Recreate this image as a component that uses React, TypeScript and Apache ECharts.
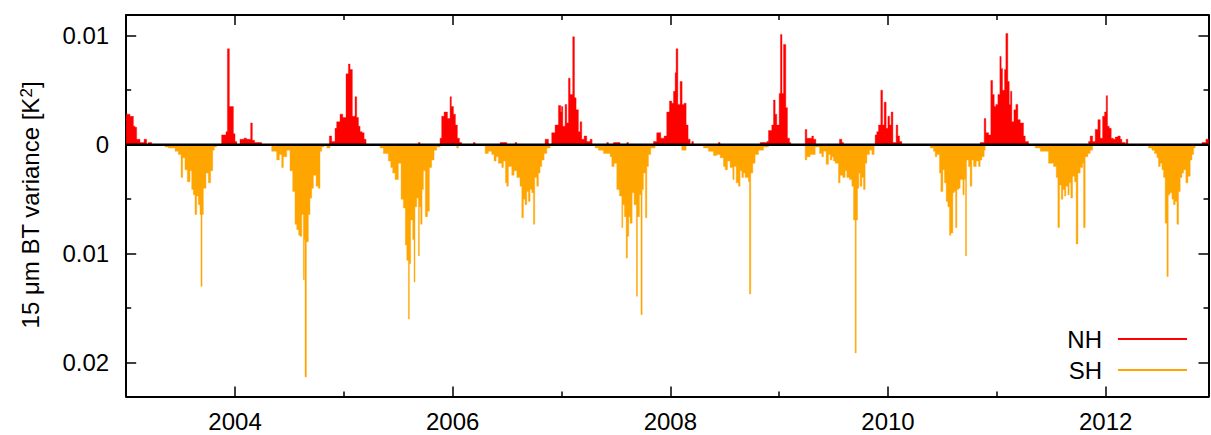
import React, { useEffect, useRef } from 'react';
import * as echarts from 'echarts';

// ---- axis ticks / labels ----
const X_MIN = 2003.0;
const X_MAX = 2012.945;
const Y_MIN = -0.0231;
const Y_MAX = 0.0119;
const xMajorTicks = [2004, 2006, 2008, 2010, 2012];
const xMinorTicks = [2005, 2007, 2009, 2011];
const yMajorTicks = [-0.02, -0.01, 0, 0.01];
const yMinorTicks = [-0.015, -0.005, 0.005];
const seriesNames = ['NH', 'SH'];
const yTitle = '15 μm BT variance [K{sup|2}]';

// ---- NH variance: [decimal year, value], each value holds until the next entry ----
const nh2003 = [[2003.000,0.0028],[2003.035,0.0026],[2003.066,0.0017],[2003.081,0.0016],[2003.096,0.0005],[2003.127,0.0002],[2003.164,0.0005],[2003.188,0],[2003.203,0.0002],[2003.234,0]];
const nh2004 = [[2003.877,0.0009],[2003.917,0.0012],[2003.930,0.0088],[2003.948,0.0035],[2003.985,0.001],[2004.000,0.0003],[2004.016,0],[2004.046,0.0005],[2004.082,0.0006],[2004.107,0.0005],[2004.144,0.002],[2004.159,0.0004],[2004.180,0.0002],[2004.245,0]];
const nh2005 = [[2004.867,0.0008],[2004.888,0.0003],[2004.919,0.0015],[2004.934,0.0021],[2004.965,0.0028],[2004.990,0.0025],[2005.020,0.0065],[2005.042,0.0074],[2005.057,0.0069],[2005.078,0.0026],[2005.103,0.0044],[2005.118,0.0025],[2005.134,0.0017],[2005.149,0.0012],[2005.167,0.0011],[2005.186,0.0005],[2005.204,0],[2005.685,0.0002],[2005.700,0]];
const nh2006 = [[2005.884,0.0006],[2005.899,0.0026],[2005.921,0.003],[2005.952,0.0024],[2005.976,0.0044],[2005.988,0.0035],[2006.007,0.0028],[2006.025,0.0018],[2006.043,0.0006],[2006.062,0.0002],[2006.083,0],[2006.190,0.0002],[2006.206,0],[2006.436,0.0002],[2006.497,0],[2006.573,0.0002],[2006.589,0],[2006.849,0.0005],[2006.880,0]];
const nh2007 = [[2006.910,0.0011],[2006.941,0.0018],[2006.972,0.0036],[2006.993,0.003],[2007.000,0.0035],[2007.012,0.0017],[2007.033,0.0037],[2007.048,0.002],[2007.064,0.0061],[2007.079,0.0046],[2007.103,0.0099],[2007.119,0.0043],[2007.134,0.0032],[2007.155,0.0012],[2007.171,0.0021],[2007.186,0.0005],[2007.208,0.0008],[2007.232,0.0003],[2007.263,0.0005],[2007.281,0],[2007.416,0.0002],[2007.431,0],[2007.477,0.0002],[2007.538,0],[2007.600,0.0002],[2007.615,0]];
const nh2008 = [[2007.845,0.0003],[2007.875,0.0011],[2007.912,0.0006],[2007.943,0.0008],[2007.967,0.003],[2007.992,0.004],[2008.013,0.0038],[2008.029,0.0049],[2008.044,0.0066],[2008.053,0.0088],[2008.069,0.0037],[2008.090,0.0058],[2008.108,0.0037],[2008.127,0.0038],[2008.145,0.0018],[2008.163,0.0005],[2008.182,0],[2008.197,0.0003],[2008.212,0],[2008.442,0.0002],[2008.457,0]];
const nh2009 = [[2008.825,0.0002],[2008.887,0.0003],[2008.902,0.0013],[2008.932,0.0018],[2008.948,0.0041],[2008.963,0.0028],[2008.978,0.0018],[2009.000,0.0047],[2009.012,0.0101],[2009.026,0.0047],[2009.040,0.0092],[2009.061,0.0034],[2009.076,0.0006],[2009.095,0.0002],[2009.107,0],[2009.239,0.0014],[2009.254,0.0006],[2009.300,0.0008],[2009.315,0.0005],[2009.337,0],[2009.554,0.0005],[2009.576,0.0002],[2009.591,0]];
const nh2010 = [[2009.882,0.0009],[2009.897,0.0012],[2009.913,0.0018],[2009.934,0.005],[2009.950,0.0018],[2009.965,0.0039],[2009.983,0.0015],[2009.999,0.0026],[2010.014,0.0018],[2010.029,0.003],[2010.045,0.0002],[2010.075,0.0018],[2010.090,0.0008],[2010.106,0.0003],[2010.127,0]];
const nh2011 = [[2010.847,0.0002],[2010.884,0.0024],[2010.899,0.0011],[2010.924,0.0009],[2010.945,0.0059],[2010.961,0.0046],[2010.976,0.0035],[2010.991,0.0037],[2011.010,0.0046],[2011.028,0.0081],[2011.040,0.007],[2011.052,0.005],[2011.071,0.0069],[2011.083,0.0102],[2011.101,0.0058],[2011.114,0.0037],[2011.126,0.0049],[2011.138,0.0021],[2011.157,0.0032],[2011.175,0.0037],[2011.193,0.0023],[2011.215,0.002],[2011.245,0.0008],[2011.261,0.0003],[2011.291,0]];
const nh2012 = [[2011.843,0.0003],[2011.858,0.0008],[2011.880,0.0003],[2011.904,0.0014],[2011.929,0.0023],[2011.950,0.0006],[2011.972,0.0026],[2011.990,0.003],[2012.005,0.0045],[2012.017,0.0017],[2012.033,0.0015],[2012.051,0.0006],[2012.070,0.0005],[2012.088,0.0007],[2012.112,0.0008],[2012.134,0.0005],[2012.149,0.0002],[2012.180,0],[2012.189,0.0005],[2012.204,0]];
const nh2013 = [[2012.885,0.0002],[2012.921,0.0005],[2012.945,0]];

// ---- SH variance (drawn downward) ----
const sh2003 = [[2003.357,0.0002],[2003.387,0.0003],[2003.449,0.0006],[2003.479,0.0009],[2003.504,0.003],[2003.519,0.0012],[2003.540,0.0023],[2003.562,0.0034],[2003.586,0.0024],[2003.602,0.0041],[2003.617,0.0046],[2003.632,0.0064],[2003.648,0.0047],[2003.663,0.0055],[2003.678,0.0064],[2003.687,0.013],[2003.697,0.0064],[2003.709,0.004],[2003.733,0.0026],[2003.755,0.0035],[2003.776,0.0024],[2003.795,0.0005],[2003.810,0.0002],[2003.831,0]];
const sh2004 = [[2004.337,0.0006],[2004.383,0.0014],[2004.407,0.0009],[2004.429,0.0021],[2004.444,0.0011],[2004.475,0.0005],[2004.505,0.0024],[2004.530,0.0043],[2004.551,0.0073],[2004.567,0.0078],[2004.585,0.0083],[2004.597,0.0084],[2004.613,0.0064],[2004.628,0.0124],[2004.637,0.0087],[2004.643,0.0213],[2004.656,0.0089],[2004.674,0.0064],[2004.689,0.0049],[2004.705,0.004],[2004.720,0.0028],[2004.745,0.0038],[2004.766,0.004],[2004.781,0.0006],[2004.797,0.0002],[2004.818,0],[2004.843,0.0003],[2004.873,0]];
const sh2005 = [[2005.333,0.0003],[2005.363,0.0008],[2005.409,0.0015],[2005.431,0.0021],[2005.449,0.0026],[2005.471,0.0032],[2005.501,0.0017],[2005.526,0.005],[2005.547,0.0058],[2005.565,0.0092],[2005.578,0.0106],[2005.593,0.016],[2005.602,0.0109],[2005.614,0.0069],[2005.633,0.0087],[2005.645,0.0126],[2005.654,0.0057],[2005.670,0.0049],[2005.685,0.0102],[2005.694,0.0057],[2005.706,0.0073],[2005.719,0.0041],[2005.731,0.0024],[2005.749,0.0066],[2005.768,0.0061],[2005.786,0.0021],[2005.807,0.0014],[2005.829,0.0005],[2005.853,0.0002],[2005.884,0],[2006.037,0.0003],[2006.053,0]];
const sh2006 = [[2006.298,0.0008],[2006.328,0.0006],[2006.359,0.0009],[2006.380,0.0015],[2006.399,0.0011],[2006.420,0.0017],[2006.451,0.0021],[2006.466,0.0015],[2006.485,0.0035],[2006.497,0.0038],[2006.512,0.002],[2006.543,0.0028],[2006.564,0.0024],[2006.589,0.003],[2006.619,0.0038],[2006.635,0.0067],[2006.650,0.005],[2006.665,0.0055],[2006.681,0.0043],[2006.696,0.0052],[2006.711,0.0041],[2006.727,0.0044],[2006.742,0.0073],[2006.754,0.003],[2006.773,0.0038],[2006.788,0.0026],[2006.803,0.002],[2006.819,0.0014],[2006.840,0.0008],[2006.865,0.0003],[2006.895,0]];
const sh2007 = [[2007.309,0.0003],[2007.339,0.0005],[2007.385,0.0008],[2007.447,0.0011],[2007.462,0.002],[2007.483,0.0017],[2007.508,0.0041],[2007.532,0.0047],[2007.554,0.0076],[2007.563,0.0055],[2007.578,0.0066],[2007.594,0.0104],[2007.606,0.0084],[2007.618,0.0066],[2007.630,0.0072],[2007.649,0.0044],[2007.667,0.0055],[2007.688,0.0139],[2007.698,0.0066],[2007.716,0.0046],[2007.730,0.0156],[2007.741,0.0041],[2007.753,0.0026],[2007.771,0.0067],[2007.784,0.002],[2007.799,0.0009],[2007.820,0.0003],[2007.860,0],[2008.105,0.0005],[2008.145,0]];
const sh2008 = [[2008.304,0.0003],[2008.350,0.0006],[2008.396,0.001],[2008.427,0.0009],[2008.458,0.0012],[2008.488,0.002],[2008.504,0.0023],[2008.525,0.0015],[2008.549,0.0021],[2008.574,0.0032],[2008.586,0.002],[2008.605,0.0035],[2008.626,0.0038],[2008.641,0.0024],[2008.657,0.003],[2008.672,0.0026],[2008.687,0.003],[2008.718,0.0034],[2008.727,0.0137],[2008.739,0.0026],[2008.758,0.0017],[2008.779,0.0009],[2008.810,0.0005],[2008.856,0.0002],[2008.902,0]];
const sh2009 = [[2009.239,0.0014],[2009.254,0.0011],[2009.285,0.0009],[2009.331,0.0002],[2009.371,0.0008],[2009.392,0.0011],[2009.407,0.0006],[2009.432,0.0018],[2009.453,0.0009],[2009.469,0.0014],[2009.484,0.0011],[2009.499,0.0015],[2009.515,0.0017],[2009.545,0.0035],[2009.560,0.0028],[2009.585,0.003],[2009.606,0.0024],[2009.622,0.003],[2009.646,0.0032],[2009.668,0.0038],[2009.683,0.0069],[2009.698,0.0191],[2009.708,0.0069],[2009.720,0.004],[2009.732,0.0026],[2009.744,0.0038],[2009.760,0.003],[2009.775,0.0041],[2009.790,0.0017],[2009.806,0.0009],[2009.830,0.0005],[2009.852,0.0009],[2009.873,0]];
const sh2010 = [[2010.388,0.0003],[2010.418,0.0006],[2010.434,0.0011],[2010.449,0.0009],[2010.473,0.0026],[2010.486,0.0043],[2010.504,0.0023],[2010.519,0.0035],[2010.535,0.0052],[2010.550,0.0057],[2010.565,0.0083],[2010.578,0.0081],[2010.596,0.0044],[2010.608,0.0043],[2010.621,0.0076],[2010.633,0.0041],[2010.648,0.004],[2010.663,0.0032],[2010.688,0.0046],[2010.700,0.0032],[2010.712,0.0102],[2010.722,0.0014],[2010.740,0.002],[2010.755,0.0038],[2010.771,0.0014],[2010.786,0.002],[2010.811,0.0015],[2010.832,0.002],[2010.847,0.0014],[2010.863,0.0011],[2010.884,0.0005],[2010.893,0]];
const sh2011 = [[2011.353,0.0003],[2011.399,0.0006],[2011.475,0.0017],[2011.521,0.002],[2011.546,0.003],[2011.561,0.0076],[2011.576,0.0037],[2011.592,0.005],[2011.607,0.0041],[2011.622,0.0047],[2011.634,0.0038],[2011.653,0.0046],[2011.665,0.0035],[2011.680,0.0049],[2011.696,0.0029],[2011.714,0.0034],[2011.729,0.0091],[2011.745,0.0026],[2011.766,0.0021],[2011.788,0.0017],[2011.797,0.0076],[2011.812,0.0011],[2011.837,0.0008],[2011.858,0.0005],[2011.880,0]];
const sh2012 = [[2012.394,0.0003],[2012.425,0.0005],[2012.449,0.0008],[2012.471,0.0012],[2012.486,0.002],[2012.502,0.0017],[2012.517,0.0023],[2012.532,0.003],[2012.547,0.0072],[2012.563,0.0121],[2012.575,0.0046],[2012.590,0.0044],[2012.609,0.005],[2012.624,0.0055],[2012.639,0.0052],[2012.655,0.0073],[2012.670,0.0043],[2012.685,0.003],[2012.701,0.0026],[2012.716,0.0023],[2012.737,0.0035],[2012.756,0.0029],[2012.777,0.0014],[2012.793,0.0009],[2012.808,0.0003],[2012.823,0]];

const nhSeasons = [nh2003, nh2004, nh2005, nh2006, nh2007, nh2008, nh2009, nh2010, nh2011, nh2012, nh2013];
const shSeasons = [sh2003, sh2004, sh2005, sh2006, sh2007, sh2008, sh2009, sh2010, sh2011, sh2012];

const FONT = '"Liberation Sans", Arial, Helvetica, sans-serif';
const FS = 24;
const NH_COLOR = '#ff0000';
const SH_COLOR = '#ffa500';

// one data item per season: [start year, end year, season index]
function seasonItems(seasons: number[][][]) {
  return seasons.map((s, i) => [s[0][0], s[s.length - 1][0], i]);
}

// each season is drawn as one stepped polygon (impulse envelope) through the axis scales
function makeRender(seasons: number[][][], sign: number, color: string) {
  return (params: any, api: any) => {
    const s = seasons[api.value(2)];
    const pts: number[][] = [api.coord([s[0][0], 0])];
    for (let i = 0; i < s.length - 1; i++) {
      const v = sign * s[i][1];
      pts.push(api.coord([s[i][0], v]));
      pts.push(api.coord([s[i + 1][0], v]));
    }
    pts.push(api.coord([s[s.length - 1][0], 0]));
    return {
      type: 'polygon',
      shape: { points: pts },
      style: { fill: color, stroke: color, lineWidth: 0.4 },
    };
  };
}

export default function App() {
  const ref = useRef<HTMLDivElement>(null);
  useEffect(() => {
    if (!ref.current) return;
    const chart = echarts.init(ref.current, undefined, { renderer: 'svg' });
    const tickLine = { color: '#000', width: 1.5 };
    const xBase: any = { type: 'value', min: X_MIN, max: X_MAX, splitLine: { show: false } };
    const yBase: any = { type: 'value', min: Y_MIN, max: Y_MAX, splitLine: { show: false } };
    const boxLine = { show: true, onZero: false, lineStyle: { color: '#000', width: 2 } };
    const noLine = { show: false, onZero: false };
    const option: any = {
      animation: false,
      backgroundColor: '#fff',
      textStyle: { fontFamily: FONT },
      grid: { left: 126.2, top: 15, width: 1082.3, height: 381.5, containLabel: false },
      xAxis: [
        {
          ...xBase, position: 'bottom', axisLine: boxLine,
          axisTick: { show: true, inside: true, length: 10, customValues: xMajorTicks, lineStyle: tickLine },
          axisLabel: { show: true, customValues: xMajorTicks, formatter: (v: number) => String(v), fontSize: FS, color: '#000', fontFamily: FONT, margin: 13 },
        },
        {
          ...xBase, position: 'bottom', axisLine: noLine,
          axisTick: { show: true, inside: true, length: 5, customValues: xMinorTicks, lineStyle: tickLine },
          axisLabel: { show: false },
        },
        {
          ...xBase, position: 'top', axisLine: boxLine,
          axisTick: { show: true, inside: true, length: 10, customValues: xMajorTicks, lineStyle: tickLine },
          axisLabel: { show: false },
        },
        {
          ...xBase, position: 'top', axisLine: noLine,
          axisTick: { show: true, inside: true, length: 5, customValues: xMinorTicks, lineStyle: tickLine },
          axisLabel: { show: false },
        },
      ],
      yAxis: [
        {
          ...yBase, position: 'left', axisLine: boxLine,
          axisTick: { show: true, inside: true, length: 10, customValues: yMajorTicks, lineStyle: tickLine },
          axisLabel: {
            show: true, customValues: yMajorTicks,
            formatter: (v: number) => (Math.abs(v) < 1e-9 ? '0' : String(Math.abs(v))),
            fontSize: FS, color: '#000', fontFamily: FONT, margin: 17,
          },
        },
        {
          ...yBase, position: 'left', axisLine: noLine,
          axisTick: { show: true, inside: true, length: 5, customValues: yMinorTicks, lineStyle: tickLine },
          axisLabel: { show: false },
        },
        {
          ...yBase, position: 'right', axisLine: boxLine,
          axisTick: { show: true, inside: true, length: 10, customValues: yMajorTicks, lineStyle: tickLine },
          axisLabel: { show: false },
        },
        {
          ...yBase, position: 'right', axisLine: noLine,
          axisTick: { show: true, inside: true, length: 5, customValues: yMinorTicks, lineStyle: tickLine },
          axisLabel: { show: false },
        },
      ],
      legend: {
        orient: 'vertical', right: 19, top: 322, align: 'right',
        itemWidth: 69, itemHeight: 2, itemGap: 7, icon: 'rect', selectedMode: false,
        textStyle: { fontSize: FS, color: '#000', fontFamily: FONT, lineHeight: FS, padding: [0, 11, 0, 0] },
        data: [
          { name: seriesNames[0], itemStyle: { color: NH_COLOR } },
          { name: seriesNames[1], itemStyle: { color: SH_COLOR } },
        ],
      },
      graphic: [
        {
          type: 'text', x: 30, y: 205, rotation: Math.PI / 2,
          style: {
            text: yTitle, fontSize: FS, fontFamily: FONT, fill: '#000', align: 'center', verticalAlign: 'middle',
            rich: { sup: { fontSize: 17, fontFamily: FONT, fill: '#000', verticalAlign: 'top', lineHeight: 15 } },
          },
        },
      ],
      series: [
        {
          name: seriesNames[0], type: 'custom', xAxisIndex: 0, yAxisIndex: 0,
          itemStyle: { color: NH_COLOR }, clip: true,
          renderItem: makeRender(nhSeasons, 1, NH_COLOR), encode: { x: [0, 1] },
          data: seasonItems(nhSeasons), silent: true,
        },
        {
          name: seriesNames[1], type: 'custom', xAxisIndex: 0, yAxisIndex: 0,
          itemStyle: { color: SH_COLOR }, clip: true,
          renderItem: makeRender(shSeasons, -1, SH_COLOR), encode: { x: [0, 1] },
          data: seasonItems(shSeasons), silent: true,
        },
        {
          name: 'zero', type: 'line', xAxisIndex: 0, yAxisIndex: 0, z: 5,
          data: [[X_MIN, 0], [X_MAX, 0]], symbol: 'none', silent: true,
          lineStyle: { color: '#000', width: 2.5 },
        },
      ],
    };
    chart.setOption(option);
    return () => chart.dispose();
  }, []);
  return <div ref={ref} style={{ position: 'fixed', left: 0, top: 0, width: 1211, height: 435, background: '#fff' }} />;
}
